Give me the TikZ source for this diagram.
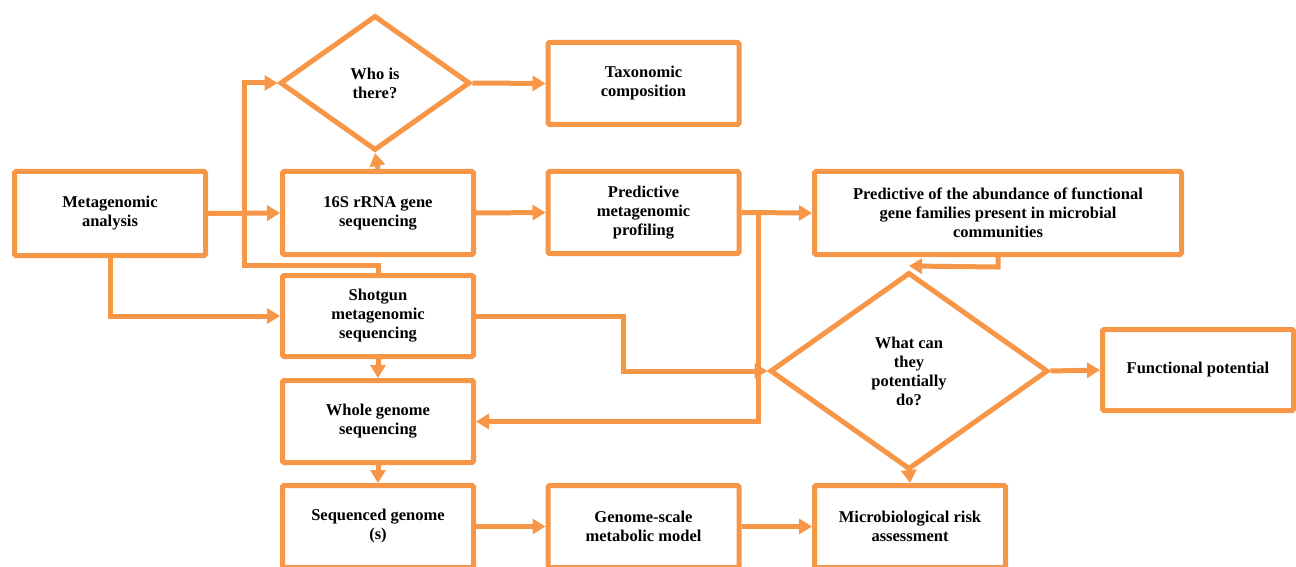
\documentclass[tikz,border=0pt]{standalone}
\usepackage{fontspec}
\setmainfont{Liberation Serif}
\usetikzlibrary{arrows.meta,shapes.geometric}
\definecolor{org}{HTML}{F79646}
\begin{document}
\begin{tikzpicture}[x=1pt,y=-1pt,
  every node/.style={font=\fontsize{16.5}{19}\selectfont\bfseries,align=center,text=black},
  box/.style={draw=org,line width=5pt,rounded corners=1.5pt,fill=white,inner sep=0pt,minimum width=191pt,minimum height=82pt},
  dia/.style={draw=org,line width=5pt,shape=diamond,fill=white,inner sep=0pt},
  arr/.style={draw=org,line width=5pt,-{Triangle[length=13pt,width=15pt]}},
  ln/.style={draw=org,line width=5pt}]
\useasboundingbox (0,0) rectangle (1296,567);
\clip (0,0) rectangle (1296,567);
% nodes
\node[box,minimum height=84pt] (meta) at (110,213.5) {Metagenomic\\analysis};
\node[dia,minimum width=190pt,minimum height=135pt] (who) at (375,83) {Who is\\there?};
\node[box] (tax) at (643.5,83.5) {Taxonomic\\composition};
\node[box,minimum height=83pt] (s16) at (378,213) {16S rRNA gene\\sequencing};
\node[box,minimum height=81pt] (shot) at (378,316) {Shotgun\\metagenomic\\sequencing};
\node[box] (pmp) at (643.5,212.5) {Predictive\\metagenomic\\profiling};
\node[box,minimum width=367pt,minimum height=83pt] (abund) at (998,213) {Predictive of the abundance of functional\\gene families present in microbial\\communities};
\node[dia,minimum width=278pt,minimum height=197pt] (what) at (909,371) {What can\\they\\potentially\\do?};
\node[box,minimum height=81pt] (func) at (1198,370) {Functional potential};
\node[box] (whole) at (378,421.5) {Whole genome\\sequencing};
\node[box] (seq) at (378,526.5) {Sequenced genome\\(s)};
\node[box] (gsm) at (643.5,526.5) {Genome-scale\\metabolic model};
\node[box] (risk) at (910,526.5) {Microbiological risk\\assessment};
% helper coordinates
\coordinate (k1) at (244,265);
\coordinate (k2) at (758,212.5);
\coordinate (k3) at (623,316);
% connectors
\draw[arr] (meta.east) -- (s16.west);
\draw[arr] (meta.south) |- (shot.west);
\draw[arr] (shot.north) |- (k1) |- (who.west);
\draw[arr] (s16.north) -- (who.south);
\draw[arr] (who.east) -- (tax.west);
\draw[arr] (s16.east) -- (pmp.west);
\draw[arr] (pmp.east) -- (abund.west);
\draw[arr] (k2) |- (whole.east);
\draw[arr] (shot.east) -- (k3) |- (what.west);
\draw[arr] (abund.south) -- ++(0,10) -- ([yshift=4pt]what.north);
\draw[arr] (what.east) -- (func.west);
\draw[arr] (what.south) -- (risk.north);
\draw[arr] (shot.south) -- (whole.north);
\draw[arr] (whole.south) -- (seq.north);
\draw[arr] (seq.east) -- (gsm.west);
\draw[arr] (gsm.east) -- (risk.west);
\end{tikzpicture}
\end{document}
